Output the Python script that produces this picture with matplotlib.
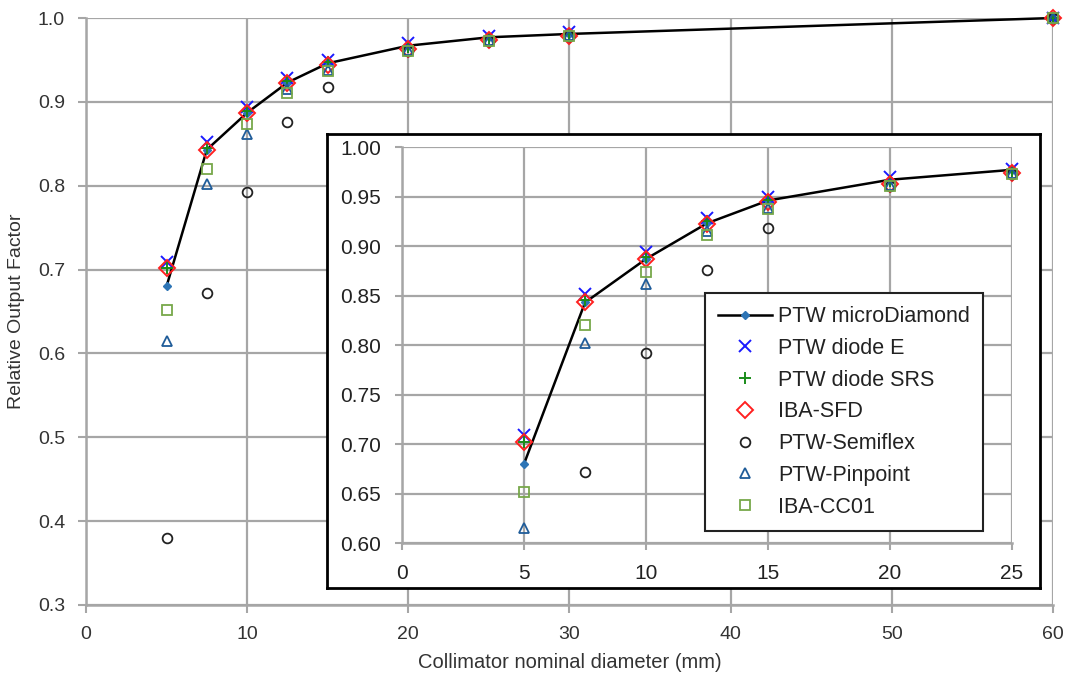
import matplotlib
matplotlib.use("Agg")
import matplotlib.pyplot as plt
from matplotlib.ticker import FormatStrFormatter

plt.rcParams["font.family"] = ["Liberation Sans", "DejaVu Sans"]

# collimator nominal diameter (mm)
diameters = [5, 7.5, 10, 12.5, 15, 20, 25, 30, 60]

micro_diamond = [0.680, 0.843, 0.887, 0.923, 0.946, 0.967, 0.977, 0.981, 1.000]
diode_e = [0.709, 0.852, 0.894, 0.928, 0.950, 0.970, 0.978, 0.983, 1.000]
diode_srs = [0.702, 0.845, 0.889, 0.925, 0.947, 0.966, 0.976, 0.981, 1.000]
iba_sfd = [0.702, 0.843, 0.887, 0.922, 0.944, 0.963, 0.974, 0.979, 1.000]
semiflex = [0.380, 0.672, 0.792, 0.876, 0.918, 0.961, 0.973, 0.979, 1.000]
pinpoint = [0.615, 0.802, 0.862, 0.915, 0.938, 0.962, 0.974, 0.980, 1.000]
cc01 = [0.652, 0.820, 0.874, 0.911, 0.937, 0.961, 0.973, 0.979, 1.000]

main_xticks = [0, 10, 20, 30, 40, 50, 60]
main_yticks = [0.3, 0.4, 0.5, 0.6, 0.7, 0.8, 0.9, 1.0]
inset_xticks = [0, 5, 10, 15, 20, 25]
inset_yticks = [0.60, 0.65, 0.70, 0.75, 0.80, 0.85, 0.90, 0.95, 1.00]

GRID = "#a6a6a6"
TEXT = "#333333"

SERIES = [
    ("PTW microDiamond", micro_diamond,
     dict(color="black", lw=1.8, marker="D", ms=4.5, mfc="#2e75b6", mec="#2e75b6")),
    ("PTW diode E", diode_e,
     dict(ls="none", marker="x", ms=9, mew=1.4, color="#1a1aff")),
    ("PTW diode SRS", diode_srs,
     dict(ls="none", marker="+", ms=9, mew=1.4, color="#1a8c1a")),
    ("IBA-SFD", iba_sfd,
     dict(ls="none", marker="D", ms=8, mew=1.4, mfc="none", mec="#ff2020")),
    ("PTW-Semiflex", semiflex,
     dict(ls="none", marker="o", ms=7, mew=1.3, mfc="none", mec="#222222")),
    ("PTW-Pinpoint", pinpoint,
     dict(ls="none", marker="^", ms=7, mew=1.3, mfc="none", mec="#1f5c99")),
    ("IBA-CC01", cc01,
     dict(ls="none", marker="s", ms=7, mew=1.3, mfc="none", mec="#77a84a")),
]
DRAW_ORDER = [1, 2, 3, 4, 5, 6, 0]


def style_axis(ax):
    for side in ("top", "right"):
        ax.spines[side].set_visible(False)
    for side in ("left", "bottom"):
        ax.spines[side].set_color(GRID)
        ax.spines[side].set_linewidth(1.8)
    ax.grid(True, color=GRID, linewidth=1.6)
    ax.set_axisbelow(True)
    ax.tick_params(direction="out", length=6, width=1.5, color=GRID)


def draw_series(ax, n_points):
    handles = {}
    for i in DRAW_ORDER:
        label, values, kw = SERIES[i]
        (h,) = ax.plot(diameters[:n_points], values[:n_points], label=label,
                       clip_on=False, zorder=3 + i * 0.1, **kw)
        handles[i] = h
    return [handles[i] for i in range(len(SERIES))]


fig = plt.figure(figsize=(10.73, 6.77), dpi=100)

ax = fig.add_axes([0.0801, 0.1064, 0.9013, 0.8670])
draw_series(ax, len(diameters))
ax.set_xlim(0, 60)
ax.set_ylim(0.3, 1.0)
ax.set_xticks(main_xticks)
ax.set_yticks(main_yticks)
ax.yaxis.set_major_formatter(FormatStrFormatter("%.1f"))
style_axis(ax)
ax.tick_params(labelsize=14, labelcolor=TEXT, pad=9)
ax.set_xlabel("Collimator nominal diameter (mm)", fontsize=14.5, color=TEXT, labelpad=7)
ax.set_ylabel("Relative Output Factor", fontsize=14, color=TEXT, labelpad=9)

# white framed box behind the zoomed view
frame = fig.add_axes([0.3048, 0.1315, 0.6645, 0.6706], zorder=3)
frame.set_xticks([])
frame.set_yticks([])
frame.set_facecolor("white")
for sp in frame.spines.values():
    sp.set_color("black")
    sp.set_linewidth(2)

inset = fig.add_axes([0.3747, 0.1979, 0.5685, 0.5849], zorder=4)
handles = draw_series(inset, 7)
inset.set_xlim(0, 25)
inset.set_ylim(0.60, 1.00)
inset.set_xticks(inset_xticks)
inset.set_yticks(inset_yticks)
inset.yaxis.set_major_formatter(FormatStrFormatter("%.2f"))
style_axis(inset)
inset.tick_params(labelsize=15, labelcolor="#222222", pad=10, length=5)

leg = inset.legend(handles=handles, loc="upper left", bbox_to_anchor=(0.497, 0.631),
                   fontsize=15.5, frameon=True, fancybox=False, framealpha=1,
                   edgecolor="#222222", handlelength=2.5, handletextpad=0.3,
                   labelspacing=0.5, borderpad=0.6, borderaxespad=0)
leg.get_frame().set_linewidth(1.5)
for t in leg.get_texts():
    t.set_color("#222222")

fig.savefig("out.png", dpi=100)
